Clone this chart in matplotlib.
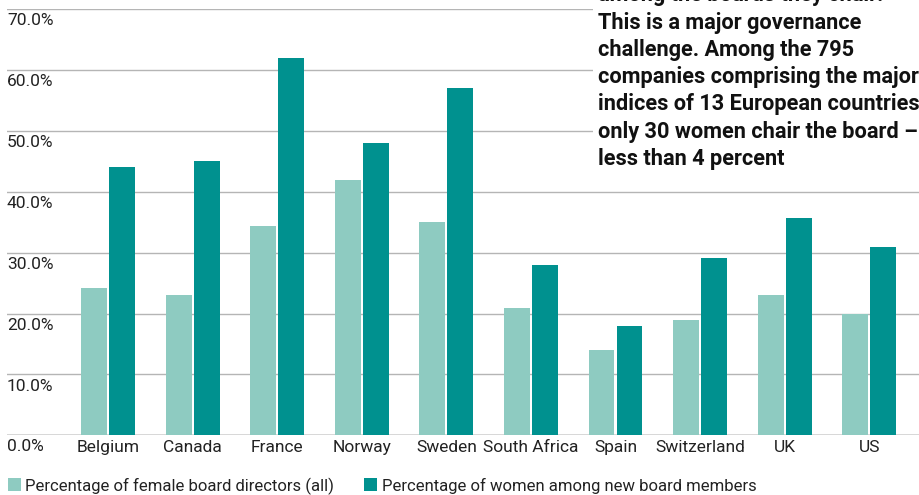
import matplotlib
matplotlib.use("Agg")
import matplotlib.pyplot as plt
import matplotlib.transforms as mtransforms
from matplotlib.patches import Rectangle
import numpy as np

countries = ["Belgium", "Canada", "France", "Norway", "Sweden", "South Africa",
             "Spain", "Switzerland", "UK", "US"]
female_all = [24.2, 23.0, 34.4, 42.0, 35.0, 20.9, 14.0, 19.0, 23.0, 19.9]
female_new = [44.1, 45.1, 62.0, 48.0, 57.1, 28.0, 18.0, 29.1, 35.7, 31.0]
y_ticks = [0, 10, 20, 30, 40, 50, 60, 70]
y_labels = ["0.0%", "10.0%", "20.0%", "30.0%", "40.0%", "50.0%", "60.0%", "70.0%"]
series_names = ["Percentage of female board directors (all)",
                "Percentage of women among new board members"]
note = ("among the boards they chair.\n"
        "This is a major governance\n"
        "challenge. Among the 795\n"
        "companies comprising the major\n"
        "indices of 13 European countries,\n"
        "only 30 women chair the board \u2013\n"
        "less than 4 percent")

LIGHT = "#8ecbc1"
DARK = "#00918f"
FONT = "Roboto"
TXT = "#222222"

W, H = 920, 495
fig = plt.figure(figsize=(W / 100, H / 100), dpi=100)
ax = fig.add_axes([7 / W, (H - 435.3) / H, (W - 7) / W, (435.3 - 9.3) / H])

x = np.arange(len(countries))
bw = 0.307
off = 0.1656
ax.bar(x - off, female_all, bw, color=LIGHT, zorder=3)
ax.bar(x + off, female_new, bw, color=DARK, zorder=3)

ax.set_xlim(-1.194, 9.6)
ax.set_ylim(0, 70)
for s in ax.spines.values():
    s.set_visible(False)
ax.set_yticks([])
for t in y_ticks:
    ax.axhline(t, color="#b5b5b5" if t else "#cccccc", lw=1.0 if t else 1.8, zorder=1)

trans = mtransforms.blended_transform_factory(ax.transAxes, ax.transData)
trans = trans + mtransforms.ScaledTranslation(0, -3 / 72, fig.dpi_scale_trans)
for t, lab in zip(y_ticks, y_labels):
    ax.text(0, t, lab, transform=trans, ha="left", va="top",
            fontsize=12.5, color=TXT, family=FONT)

ax.set_xticks(x)
ax.set_xticklabels(countries, fontsize=12.5, color=TXT, family=FONT)
ax.tick_params(axis="x", length=0, pad=3.5)

# legend (manual, pixel-placed)
leg_items = [(8, 25, LIGHT), (364, 382, DARK)]
for (sx, tx, col), name in zip(leg_items, series_names):
    fig.add_artist(Rectangle((sx / W, (H - 491) / H), 13.5 / W, 13.5 / H,
                             transform=fig.transFigure, color=col, lw=0))
    fig.text(tx / W, (H - 491) / H, name, ha="left", va="baseline",
             fontsize=12, color=TXT, family=FONT)

fig.text(598 / W, (H - 170) / H, note, ha="left", va="bottom",
         fontsize=15.7, fontweight="bold", family=FONT, color="#111111",
         linespacing=1.31,
         bbox=dict(facecolor="white", edgecolor="none", pad=4))

fig.savefig("out.png", dpi=100)
